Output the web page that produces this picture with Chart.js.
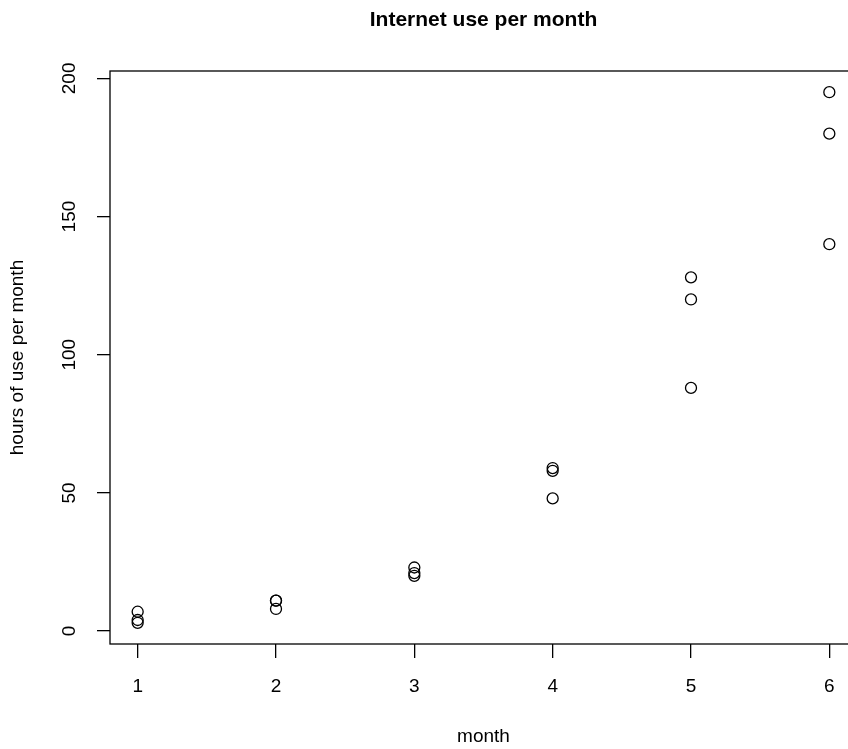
<!DOCTYPE html>
<html>
<head>
<meta charset="utf-8">
<script src="https://cdn.jsdelivr.net/npm/chart.js@4/dist/chart.umd.min.js"></script>
<style>
  html, body { margin: 0; padding: 0; background: #fff; overflow: hidden; }
  canvas { display: block; }
</style>
</head>
<body>
<canvas id="chart" width="870" height="749"></canvas>
<script>
// valores
const month = [1, 1, 1, 2, 2, 2, 3, 3, 3, 4, 4, 4, 5, 5, 5, 6, 6, 6];
const hours = [7, 4, 3, 11, 11, 8, 23, 21, 20, 59, 58, 48, 128, 120, 88, 195, 180, 140];
const xTicks = [1, 2, 3, 4, 5, 6];
const yTicks = [0, 50, 100, 150, 200];

const FONT = '"Liberation Sans", Arial, Helvetica, sans-serif';

// faixa dos eixos no estilo do R (4% de folga)
function pad(vals) {
    const lo = Math.min(...vals), hi = Math.max(...vals);
    const d = (hi - lo) * 0.04;
    return [lo - d, hi + d];
}
const [xMin, xMax] = pad(month);
const [yMin, yMax] = pad(hours);

const points = month.map((m, i) => ({ x: m, y: hours[i] }));

// moldura do gráfico e rótulos do eixo y girados
const frame = {
    id: 'frame',
    afterDraw(chart) {
        const { ctx, chartArea: a, scales: { y } } = chart;
        ctx.save();
        ctx.strokeStyle = '#000';
        ctx.lineWidth = 1.3;
        ctx.strokeRect(a.left, a.top, a.right - a.left, a.bottom - a.top);
        ctx.fillStyle = '#000';
        ctx.font = '19px ' + FONT;
        ctx.textAlign = 'center';
        ctx.textBaseline = 'middle';
        yTicks.forEach(v => {
            ctx.save();
            ctx.translate(70, y.getPixelForValue(v));
            ctx.rotate(-Math.PI / 2);
            ctx.fillText(String(v), 0, 0);
            ctx.restore();
        });
        ctx.restore();
    }
};

new Chart(document.getElementById('chart').getContext('2d'), {
    type: 'scatter',
    data: {
        datasets: [{
            data: points,
            pointStyle: 'circle',
            pointRadius: 5.5,
            pointHoverRadius: 5.5,
            pointBorderWidth: 1.3,
            borderColor: '#000',
            backgroundColor: 'rgba(0,0,0,0)'
        }]
    },
    options: {
        responsive: false,
        animation: false,
        layout: { padding: { left: 0, right: 13, top: 0, bottom: 0 } },
        plugins: {
            legend: { display: false },
            tooltip: { enabled: false },
            title: {
                display: true,
                text: 'Internet use per month',
                color: '#000',
                fullSize: false,
                font: { family: FONT, size: 21, weight: 'bold', lineHeight: 1.2 },
                padding: { top: 7.4, bottom: 38.4 }
            }
        },
        scales: {
            x: {
                type: 'linear',
                min: xMin,
                max: xMax,
                afterBuildTicks: s => { s.ticks = xTicks.map(v => ({ value: v })); },
                afterFit: s => { s.height = 105; },
                border: { display: false },
                grid: { drawOnChartArea: false, drawTicks: true, tickLength: 14, color: '#000', lineWidth: 1.3 },
                ticks: { color: '#000', font: { family: FONT, size: 19 }, padding: 17, maxRotation: 0 },
                title: { display: true, text: 'month', color: '#000', font: { family: FONT, size: 19, lineHeight: 1.2 }, padding: { top: 0, bottom: 0.6 } }
            },
            y: {
                type: 'linear',
                min: yMin,
                max: yMax,
                afterBuildTicks: s => { s.ticks = yTicks.map(v => ({ value: v })); },
                afterFit: s => { s.width = 110; },
                border: { display: false },
                grid: { drawOnChartArea: false, drawTicks: true, tickLength: 13, color: '#000', lineWidth: 1.3 },
                ticks: { display: false },
                title: { display: true, text: 'hours of use per month', color: '#000', font: { family: FONT, size: 19, lineHeight: 1.2 }, padding: { top: 6.6, bottom: 0 } }
            }
        }
    },
    plugins: [frame]
});
</script>
</body>
</html>
